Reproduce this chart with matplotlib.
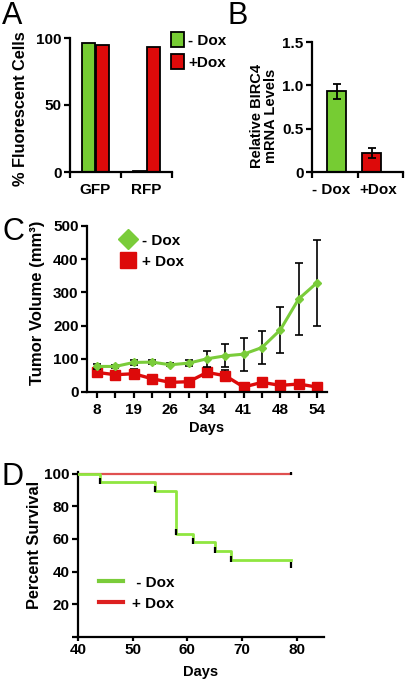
import matplotlib
matplotlib.use("Agg")
import matplotlib.pyplot as plt
import numpy as np
from matplotlib.patches import Patch
from matplotlib.lines import Line2D

plt.rcParams['font.family'] = ['Liberation Sans', 'DejaVu Sans']
plt.rcParams['font.weight'] = 'bold'
plt.rcParams['axes.labelweight'] = 'bold'
plt.rcParams['axes.linewidth'] = 1.6
plt.rcParams['xtick.major.width'] = 1.6
plt.rcParams['ytick.major.width'] = 1.6
plt.rcParams['xtick.minor.width'] = 1.6
plt.rcParams['xtick.labelsize'] = 11
plt.rcParams['ytick.labelsize'] = 11

# panel A
a_categories = ['GFP', 'RFP']
a_minus_dox = [96, 0.5]
a_plus_dox = [95, 93]

# panel B
b_categories = ['- Dox', '+Dox']
b_values = [0.93, 0.22]
b_errors = [0.09, 0.06]

# panel C
c_tick_labels = ['8', '', '19', '', '26', '', '34', '', '41', '', '48', '', '54']
c_minus_dox = [77, 77, 89, 90, 82, 87, 100, 109, 114, 134, 187, 280, 329]
c_minus_err = [8, 5, 8, 6, 5, 10, 24, 35, 50, 50, 70, 109, 129]
c_plus_dox = [59, 52, 55, 40, 29, 31, 59, 49, 15, 29, 20, 24, 15]
c_plus_err = [12, 10, 13, 10, 6, 12, 12, 16, 8, 8, 8, 9, 8]

# panel D
d_minus_days = [40, 44, 54, 58, 61, 65, 68, 79]
d_minus_surv = [100, 94.7, 89.5, 63.2, 57.9, 52.6, 47.4, 47.4]
d_minus_marks_x = [44, 54, 58, 61, 65, 68, 79]
d_minus_marks_y = [95.5, 90.5, 64, 58.5, 53.5, 48, 44]
d_plus_days = [40, 79]
d_plus_surv = [100, 100]

green = '#76cc33'
red = '#dd0a0a'

fig = plt.figure(figsize=(4.07, 6.79), dpi=100)
W, H = 407.0, 679.0

def box(l, t, r, b):
    return [l / W, 1 - b / H, (r - l) / W, (b - t) / H]

def clean(ax):
    ax.spines['top'].set_visible(False)
    ax.spines['right'].set_visible(False)
    ax.tick_params(length=4, color='black', pad=2)

# ---- A
axA = fig.add_axes(box(70, 38, 172, 172))
clean(axA)
x = np.arange(len(a_categories))
axA.bar(x - 0.137, a_minus_dox, 0.27, color=green, edgecolor='black', linewidth=1.3)
axA.bar(x + 0.137, a_plus_dox, 0.27, color=red, edgecolor='black', linewidth=1.3)
axA.set_xlim(-0.5, 1.5)
axA.set_ylim(0, 100)
axA.set_yticks([0, 50, 100])
axA.set_xticks(x)
axA.set_xticklabels(a_categories)
axA.set_xticks([-0.5, 0.5, 1.5], minor=True)
axA.tick_params(axis='x', which='major', length=0, pad=8)
axA.tick_params(axis='x', which='minor', length=4, direction='out')
axA.set_ylabel('% Fluorescent Cells', fontsize=11.8)
axA.yaxis.set_label_coords(-0.41, 0.47)
axA.legend(handles=[Patch(facecolor=green, edgecolor='black', linewidth=1.3, label='- Dox'),
                    Patch(facecolor=red, edgecolor='black', linewidth=1.3, label='+Dox')],
           loc='upper left', bbox_to_anchor=(160 / W, 1 - 21 / H), bbox_transform=fig.transFigure,
           frameon=False, fontsize=11, handlelength=0.9, handleheight=1.2, handletextpad=0.25,
           labelspacing=0.4, borderpad=0.2)

# ---- B
axB = fig.add_axes(box(312, 42, 403, 172))
clean(axB)
xb = np.arange(len(b_categories))
axB.bar(xb, b_values, 0.54, yerr=b_errors, color=[green, red], edgecolor='black', linewidth=1.3,
        error_kw=dict(ecolor='black', elinewidth=1.3, capsize=3, capthick=1.3))
axB.set_xlim(-0.7, 1.9)
axB.set_ylim(0, 1.5)
axB.set_yticks([0, 0.5, 1.0, 1.5])
axB.set_yticklabels(['0', '0.5', '1.0', '1.5'])
axB.set_xticks([-0.15, 1.2])
axB.set_xticklabels(b_categories)
axB.set_xticks([-0.7, 0.61, 1.9], minor=True)
axB.tick_params(axis='x', which='major', length=0, pad=8)
axB.tick_params(axis='x', which='minor', length=4, direction='out')
axB.set_ylabel('Relative BIRC4\nmRNA Levels', fontsize=10.5, linespacing=1.0)
axB.yaxis.set_label_coords(-0.37, 0.43)

# ---- C
axC = fig.add_axes(box(87, 226, 327, 392))
clean(axC)
xc = np.arange(len(c_tick_labels))
axC.errorbar(xc, c_minus_dox, yerr=c_minus_err, color='#7acc3a', lw=2.2, marker='D', ms=4.5,
             mec='#7acc3a', ecolor='black', elinewidth=1.2, capsize=3, capthick=1.2, zorder=3)
axC.errorbar(xc, c_plus_dox, yerr=c_plus_err, color=red, lw=2.4, marker='s', ms=6.5,
             mec=red, ecolor='black', elinewidth=1.2, capsize=3, capthick=1.2, zorder=2)
axC.set_xlim(-0.55, 12.55)
axC.set_ylim(0, 500)
axC.set_yticks([0, 100, 200, 300, 400, 500])
axC.set_xticks(xc)
axC.set_xticklabels(c_tick_labels)
axC.tick_params(axis='x', pad=4)
axC.set_xlabel('Days', fontsize=10.5, labelpad=3)
axC.set_ylabel('Tumor Volume (mm³)', fontsize=12)
axC.yaxis.set_label_coords(-0.175, 0.54)
axC.legend(handles=[Line2D([], [], ls='none', marker='D', ms=10, color='#7acc3a', label='- Dox'),
                    Line2D([], [], ls='none', marker='s', ms=11, color=red, label='+ Dox')],
           loc='upper left', bbox_to_anchor=(110 / W, 1 - 223 / H), bbox_transform=fig.transFigure,
           frameon=False, fontsize=11, handlelength=1.0, handletextpad=0.4, labelspacing=0.45,
           borderpad=0.2)

# ---- D
axD = fig.add_axes(box(78, 472, 324, 637))
clean(axD)
axD.step(d_plus_days, d_plus_surv, where='post', color='#e05050', lw=1.6, zorder=2)
axD.step(d_minus_days, d_minus_surv, where='post', color='#8fe640', lw=2.0, zorder=3)
axD.plot(d_minus_marks_x, d_minus_marks_y, ls='none', marker='|', ms=4, mew=1.6, color='black', zorder=4)
axD.plot([79], [101], ls='none', marker='|', ms=4, mew=1.6, color='black', zorder=4)
axD.set_xlim(40, 85)
axD.set_ylim(0, 101)
axD.set_xticks([40, 50, 60, 70, 80])
axD.set_yticks([0, 20, 40, 60, 80, 100])
axD.set_yticklabels(['', '20', '40', '60', '80', '100'])
axD.tick_params(axis='x', length=3, pad=1)
axD.set_xlabel('Days', fontsize=10.5, labelpad=6)
axD.set_ylabel('Percent Survival', fontsize=11.8)
axD.yaxis.set_label_coords(-0.146, 0.56)
axD.legend(handles=[Line2D([], [], color='#7acc3a', lw=3, label=' - Dox'),
                    Line2D([], [], color='#dd2020', lw=3, label='+ Dox')],
           loc='upper left', bbox_to_anchor=(88 / W, 1 - 565 / H), bbox_transform=fig.transFigure,
           frameon=False, fontsize=11, handlelength=1.6, handletextpad=0.6, labelspacing=0.45,
           borderpad=0.2)

# panel letters
for letter, px, py in [('A', 2, 1), ('B', 228, 1), ('C', 2, 217), ('D', 1, 462)]:
    fig.text(px / W, 1 - py / H, letter, fontsize=22, fontweight='normal', va='top', ha='left')

fig.savefig('out.png', dpi=100)
